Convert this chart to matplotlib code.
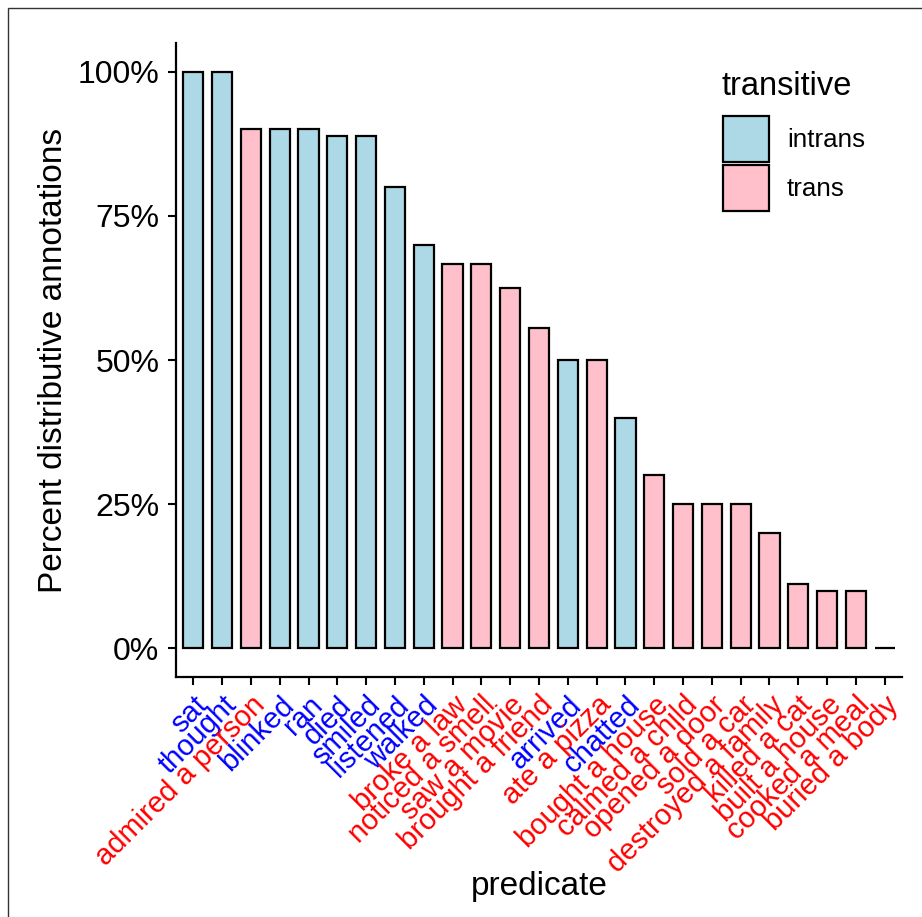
import matplotlib.pyplot as plt
from matplotlib.patches import Patch, Rectangle
from matplotlib.ticker import FuncFormatter

predicates = [
    "sat", "thought", "admired a person", "blinked", "ran", "died", "smiled",
    "listened", "walked", "broke a law", "noticed a smell", "saw a movie",
    "brought a friend", "arrived", "ate a pizza", "chatted", "bought a house",
    "calmed a child", "opened a door", "sold a car", "destroyed a family",
    "killed a cat", "built a house", "cooked a meal", "buried a body",
]
percent_distributive = [
    100, 100, 90, 90, 90, 88.9, 88.9, 80, 70, 66.7, 66.7, 62.5,
    55.6, 50, 50, 40, 30, 25, 25, 25, 20, 11.1, 10, 10, 0,
]
transitive = [
    "intrans", "intrans", "trans", "intrans", "intrans", "intrans", "intrans",
    "intrans", "intrans", "trans", "trans", "trans", "trans", "intrans",
    "trans", "intrans", "trans", "trans", "trans", "trans", "trans",
    "trans", "trans", "trans", "trans",
]
y_ticks = [0, 25, 50, 75, 100]

FILL = {"intrans": "#ADD8E6", "trans": "#FFC0CB"}
LABEL_COLOR = {"intrans": "blue", "trans": "red"}

plt.rcParams["font.family"] = ["Liberation Sans", "DejaVu Sans"]

W, H = 922, 917
fig = plt.figure(figsize=(W / 100, H / 100), dpi=100)
ax = fig.add_axes([176 / W, 1 - 677 / H, (902 - 176) / W, (677 - 43) / H])

xs = list(range(1, len(predicates) + 1))
ax.bar(xs, percent_distributive, width=0.7,
       color=[FILL[t] for t in transitive], edgecolor="black", linewidth=1.6)

ax.set_xlim(0.4, len(predicates) + 0.6)
ax.set_ylim(-5, 105)
ax.set_yticks(y_ticks)
ax.yaxis.set_major_formatter(FuncFormatter(lambda v, _: f"{v:.0f}%"))
ax.set_xticks(xs)
ax.set_xticklabels(predicates, rotation=45, ha="right", va="top",
                   rotation_mode="anchor", fontsize=21)
for lbl, t in zip(ax.get_xticklabels(), transitive):
    lbl.set_color(LABEL_COLOR[t])
ax.tick_params(axis="y", labelsize=23, length=6, width=1.5, pad=6)
ax.tick_params(axis="x", length=6, width=1.5, pad=4)

for side in ("top", "right"):
    ax.spines[side].set_visible(False)
for side in ("left", "bottom"):
    ax.spines[side].set_linewidth(1.6)

ax.set_xlabel("predicate", fontsize=24)
ax.set_ylabel("Percent distributive annotations", fontsize=24)
ax.xaxis.set_label_coords(0.5, -(886 - 677) / (677 - 43))
ax.xaxis.label.set_va("center")
ax.yaxis.set_label_coords((54 - 176) / (902 - 176), 0.5)
ax.yaxis.label.set_va("center")

# legend: title drawn separately so the keys can sit where ggplot puts them
handles = [Patch(facecolor=FILL[k], edgecolor="black", linewidth=1.6, label=k)
           for k in ("intrans", "trans")]
leg = ax.legend(handles=handles, frameon=False, fontsize=18.7, loc="upper left",
                bbox_to_anchor=(718 / W, 1 - 111 / H), bbox_transform=fig.transFigure,
                handlelength=1.75, handleheight=2.35, handletextpad=0.7,
                labelspacing=0.12, borderaxespad=0, borderpad=0.2)
fig.text(721 / W, 1 - 95 / H, "transitive", fontsize=23.5, ha="left", va="baseline")

fig.add_artist(Rectangle((8 / W, -0.1), 1.2, 1.1 - 8 / H, transform=fig.transFigure,
                         fill=False, edgecolor="#333333", linewidth=1))

fig.savefig("out.png", dpi=100)
